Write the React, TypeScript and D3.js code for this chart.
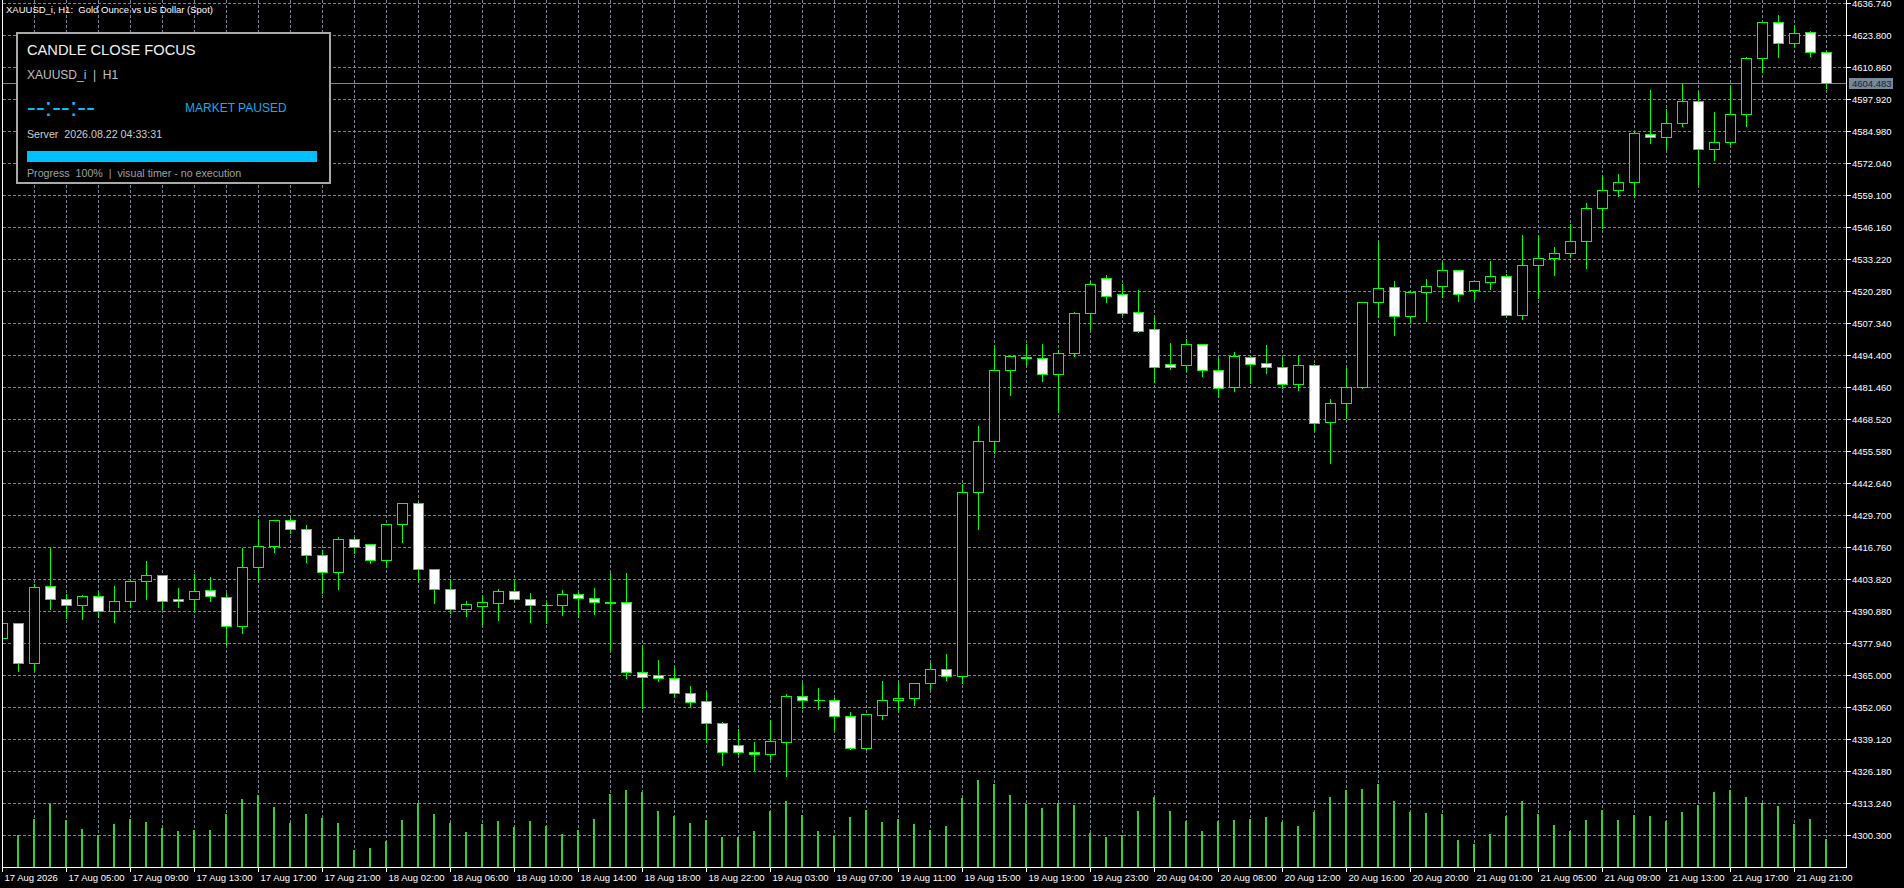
import React from "react";
import * as d3 from "d3";

// XAUUSD_i H1 bars, 17 Aug 01:00 .. 21 Aug 23:00
const open = [
  4379.96, 4386.02, 4370.09, 4400.99, 4395.73, 4393.31, 4396.95, 4390.88, 4394.92, 4403.01,
  4405.44, 4395.7, 4395.73, 4399.37, 4396.54, 4384.81, 4408.67, 4417.16, 4427.67, 4424.03,
  4413.52, 4406.64, 4419.99, 4417.97, 4411.74, 4426.05, 4434.6, 4407.86, 4399.77, 4391.93,
  4393.14, 4394.36, 4398.96, 4395.73, 4393.35, 4393.31, 4397.75, 4396.14, 4394.5, 4394.52,
  4366.45, 4365.0, 4363.79, 4357.72, 4354.5, 4345.58, 4336.69, 4333.86, 4333.05, 4337.9,
  4356.51, 4354.85, 4354.85, 4348.42, 4335.44, 4349.1, 4354.85, 4355.65, 4361.8, 4367.43,
  4364.55, 4439.04, 4459.66, 4488.37, 4493.9, 4493.15, 4487.0, 4495.21, 4511.34, 4525.54,
  4519.06, 4511.79, 4504.91, 4490.76, 4490.6, 4498.84, 4488.57, 4481.46, 4493.59, 4491.16,
  4489.55, 4482.67, 4490.35, 4467.3, 4474.99, 4481.7, 4515.83, 4521.9, 4510.17, 4519.87,
  4522.3, 4528.77, 4520.68, 4523.92, 4526.35, 4510.57, 4530.79, 4533.62, 4535.64, 4540.5,
  4553.84, 4561.12, 4564.35, 4584.01, 4582.55, 4588.45, 4597.11, 4577.94, 4580.77, 4591.85,
  4614.5, 4629.06, 4620.56, 4625.01, 4616.92,
];
const high = [
  4387.36, 4386.3, 4402.2, 4416.76, 4398.4, 4397.87, 4399.49, 4401.39, 4404.34, 4411.62,
  4405.6, 4400.58, 4406.24, 4405.15, 4398.8, 4416.76, 4428.48, 4428.0, 4428.89, 4426.18,
  4415.95, 4421.33, 4421.33, 4418.61, 4426.5, 4435.2, 4435.5, 4408.2, 4404.22, 4395.45,
  4397.87, 4400.17, 4403.82, 4398.68, 4395.04, 4399.89, 4399.2, 4400.58, 4406.64, 4406.64,
  4377.53, 4371.47, 4368.24, 4361.07, 4358.52, 4346.4, 4343.56, 4338.43, 4347.45, 4357.72,
  4362.17, 4360.3, 4356.06, 4350.48, 4349.5, 4363.01, 4363.01, 4362.2, 4370.3, 4373.98,
  4442.72, 4466.21, 4498.76, 4494.3, 4499.29, 4499.29, 4496.86, 4512.15, 4524.73, 4527.32,
  4523.51, 4521.09, 4510.41, 4499.65, 4501.27, 4499.25, 4494.11, 4496.14, 4494.4, 4498.97,
  4494.11, 4494.92, 4491.4, 4477.01, 4489.55, 4516.36, 4541.02, 4524.85, 4520.8, 4525.65,
  4532.65, 4529.2, 4524.6, 4532.94, 4527.8, 4543.45, 4542.92, 4538.48, 4547.78, 4556.27,
  4567.59, 4567.99, 4584.98, 4601.96, 4594.28, 4604.91, 4601.68, 4593.18, 4603.58, 4615.43,
  4629.4, 4632.41, 4627.96, 4625.82, 4617.85,
];
const low = [
  4378.87, 4366.74, 4367.14, 4391.93, 4388.29, 4387.89, 4388.69, 4386.67, 4392.74, 4395.97,
  4391.93, 4392.49, 4391.4, 4395.16, 4377.25, 4381.98, 4403.54, 4414.98, 4422.41, 4410.93,
  4398.16, 4400.01, 4414.57, 4410.53, 4408.67, 4419.02, 4403.54, 4394.11, 4390.31, 4388.98,
  4385.75, 4387.36, 4395.04, 4386.67, 4386.27, 4389.38, 4388.69, 4389.78, 4375.23, 4363.79,
  4351.65, 4362.81, 4356.75, 4352.7, 4338.14, 4328.72, 4332.77, 4326.7, 4331.03, 4324.4,
  4351.65, 4351.41, 4342.96, 4335.03, 4335.03, 4347.44, 4350.48, 4353.07, 4359.62, 4363.18,
  4362.08, 4424.28, 4454.77, 4478.26, 4490.55, 4484.12, 4471.43, 4494.24, 4505.19, 4516.11,
  4510.69, 4503.94, 4483.72, 4488.74, 4488.17, 4486.15, 4477.65, 4480.08, 4483.32, 4487.12,
  4481.05, 4480.36, 4464.19, 4450.72, 4468.92, 4481.05, 4510.01, 4502.73, 4507.74, 4508.39,
  4517.85, 4516.48, 4517.04, 4521.09, 4509.76, 4508.95, 4517.69, 4526.75, 4534.43, 4529.58,
  4545.75, 4558.69, 4558.93, 4580.37, 4577.94, 4587.24, 4563.55, 4573.5, 4579.96, 4587.24,
  4609.08, 4615.15, 4619.59, 4615.55, 4602.61,
];
const close = [
  4386.03, 4370.09, 4400.58, 4395.73, 4393.31, 4396.95, 4390.88, 4394.92, 4403.01, 4405.44,
  4394.92, 4395.2, 4398.96, 4396.95, 4384.81, 4408.67, 4417.16, 4427.67, 4424.03, 4413.52,
  4406.64, 4419.99, 4416.76, 4411.74, 4426.05, 4434.55, 4407.86, 4399.77, 4391.68, 4393.71,
  4394.52, 4398.96, 4395.73, 4393.31, 4393.35, 4397.75, 4396.14, 4394.52, 4394.1, 4366.45,
  4364.43, 4363.79, 4357.72, 4354.08, 4345.58, 4334.11, 4333.86, 4333.05, 4338.31, 4356.51,
  4354.89, 4354.85, 4348.42, 4335.44, 4349.23, 4354.85, 4355.65, 4361.8, 4367.43, 4364.55,
  4439.04, 4459.66, 4488.37, 4493.99, 4493.5, 4487.0, 4495.21, 4511.34, 4523.11, 4518.58,
  4511.63, 4504.35, 4489.55, 4489.55, 4498.84, 4488.57, 4481.05, 4493.99, 4490.76, 4489.55,
  4482.67, 4490.35, 4466.9, 4474.99, 4481.46, 4515.83, 4521.49, 4510.17, 4519.87, 4522.3,
  4528.77, 4519.06, 4524.32, 4526.35, 4510.57, 4530.79, 4533.62, 4535.64, 4540.5, 4553.84,
  4561.12, 4564.35, 4584.17, 4582.55, 4588.45, 4597.11, 4577.94, 4580.77, 4591.85, 4614.5,
  4629.06, 4620.56, 4624.6, 4616.92, 4604.483,
];
const volume = [
  4000, 3200, 4830, 6370, 4730, 3830, 3230, 4330, 4830, 4530,
  3930, 3630, 3730, 3730, 5330, 6830, 7170, 6030, 4430, 5330,
  4870, 4430, 1730, 1930, 2630, 4730, 6430, 5330, 4430, 3530,
  4330, 4630, 4030, 4630, 4130, 3330, 3730, 4830, 7270, 7730,
  7530, 5630, 5130, 4430, 4730, 3030, 3030, 3630, 5630, 6630,
  5230, 3630, 3130, 5030, 5730, 4530, 4830, 4330, 3730, 4130,
  6930, 8730, 8330, 7230, 6330, 5930, 6430, 6230, 3430, 3030,
  3230, 5630, 7030, 5630, 4630, 3630, 4630, 4730, 4830, 5030,
  4530, 4130, 5530, 7030, 7730, 7830, 8330, 6630, 5530, 5430,
  5330, 2730, 2330, 3330, 5130, 6630, 5330, 4230, 3630, 4730,
  5730, 4730, 5230, 5130, 4630, 5530, 6230, 7530, 7730, 7030,
  6430, 6130, 4330, 4830, 2830,
];

const priceTicks = [
  4636.74, 4623.8, 4610.86, 4597.92, 4584.98, 4572.04, 4559.1, 4546.16, 4533.22,
  4520.28, 4507.34, 4494.4, 4481.46, 4468.52, 4455.58, 4442.64, 4429.7, 4416.76,
  4403.82, 4390.88, 4377.94, 4365.0, 4352.06, 4339.12, 4326.18, 4313.24, 4300.3,
];

// one label every 4 bars
const timeLabels = [
  "17 Aug 2026", "17 Aug 05:00", "17 Aug 09:00", "17 Aug 13:00", "17 Aug 17:00",
  "17 Aug 21:00", "18 Aug 02:00", "18 Aug 06:00", "18 Aug 10:00", "18 Aug 14:00",
  "18 Aug 18:00", "18 Aug 22:00", "19 Aug 03:00", "19 Aug 07:00", "19 Aug 11:00",
  "19 Aug 15:00", "19 Aug 19:00", "19 Aug 23:00", "20 Aug 04:00", "20 Aug 08:00",
  "20 Aug 12:00", "20 Aug 16:00", "20 Aug 20:00", "21 Aug 01:00", "21 Aug 05:00",
  "21 Aug 09:00", "21 Aug 13:00", "21 Aug 17:00", "21 Aug 21:00",
];

const bidPrice = 4604.483;

const FONT = "'Liberation Sans', Arial, sans-serif";
const GRID = "#778899";
const CANDLE = "#00ff00";
const VOL = "#32cd32";
const BLUE = "#00bfff";
const NB = "\u00A0";

export default function App() {
  const W = 1904;
  const H = 888;
  const plotRight = 1846.5;
  const plotBottom = 867.5;
  const n = close.length;

  const x = d3.scaleLinear().domain([0, n - 1]).range([2.5, 1826.5]);
  const y = d3.scaleLinear().domain([4300.3, 4636.74]).range([835.3, 3.3]);
  const vh = d3.scaleLinear().domain([0, d3.max(volume) ?? 1]).range([0, 87.3]);
  const sy = (p: number) => Math.round(y(p)) + 0.5;

  const gridBars = d3.range(0, n, 2);
  const bidY = sy(bidPrice);

  return (
    <svg
      width={W}
      height={H}
      style={{ position: "fixed", left: 0, top: 0, display: "block" }}
      shapeRendering="crispEdges"
    >
      <defs>
        <clipPath id="plot">
          <rect x={3} y={0} width={plotRight - 3} height={plotBottom} />
        </clipPath>
      </defs>
      <rect width={W} height={H} fill="#000" />

      <g clipPath="url(#plot)">
        {/* grid */}
        {priceTicks.map((t) => (
          <line
            key={"h" + t}
            x1={3}
            x2={plotRight}
            y1={sy(t)}
            y2={sy(t)}
            stroke={GRID}
            strokeDasharray="3,2"
          />
        ))}
        {gridBars.map((i) => (
          <line
            key={"v" + i}
            x1={x(i)}
            x2={x(i)}
            y1={0}
            y2={plotBottom}
            stroke={GRID}
            strokeDasharray="3,2"
          />
        ))}

        {/* volumes */}
        {volume.map((vol, i) => (
          <rect
            key={"vol" + i}
            x={x(i) - 1.5}
            y={867 - Math.round(vh(vol))}
            width={2}
            height={Math.round(vh(vol))}
            fill={VOL}
          />
        ))}

        {/* bid line */}
        <line x1={3} x2={plotRight} y1={bidY} y2={bidY} stroke={GRID} />

        {/* candles */}
        {close.map((c, i) => {
          const o = open[i];
          const cx = x(i);
          const yTop = sy(Math.max(o, c));
          const yBot = sy(Math.min(o, c));
          return (
            <g key={"c" + i}>
              <line x1={cx} x2={cx} y1={sy(high[i])} y2={sy(low[i])} stroke={CANDLE} />
              {o === c ? (
                <line x1={cx - 5} x2={cx + 6} y1={yTop} y2={yTop} stroke={CANDLE} />
              ) : (
                <rect
                  x={cx - 5}
                  y={yTop}
                  width={10}
                  height={Math.max(1, yBot - yTop)}
                  fill={c > o ? "#000" : "#fff"}
                  stroke={CANDLE}
                />
              )}
            </g>
          );
        })}
      </g>

      {/* frame */}
      <line x1={2.5} x2={2.5} y1={0} y2={plotBottom} stroke="#fff" />
      <line x1={plotRight} x2={plotRight} y1={0} y2={plotBottom} stroke="#fff" />
      <line x1={2.5} x2={plotRight} y1={plotBottom} y2={plotBottom} stroke="#fff" />

      {/* price axis */}
      <g fontFamily={FONT} fontSize={9.5} fill="#fff">
        {priceTicks.map((t) => (
          <g key={"pt" + t}>
            <line x1={plotRight} x2={plotRight + 4} y1={sy(t)} y2={sy(t)} stroke="#fff" />
            <text x={1852} y={sy(t)} dy="0.35em">
              {t.toFixed(3)}
            </text>
          </g>
        ))}
      </g>
      <rect x={1849} y={bidY - 5.5} width={44} height={11} fill="#778899" />
      <text x={1852} y={bidY} dy="0.35em" fontFamily={FONT} fontSize={9.5} fill="#1b2026">
        {bidPrice.toFixed(3)}
      </text>

      {/* time axis */}
      <g fontFamily={FONT} fontSize={9.5} fill="#fff">
        {timeLabels.map((lab, k) => (
          <g key={"tl" + k}>
            <line x1={x(k * 4)} x2={x(k * 4)} y1={plotBottom} y2={plotBottom + 4} stroke="#fff" />
            <text x={x(k * 4) + 2} y={881}>
              {lab}
            </text>
          </g>
        ))}
      </g>

      {/* title */}
      <text x={6} y={13} fontFamily={FONT} fontSize={9.5} fill="#fff">
        {`XAUUSD_i, H1:${NB}${NB}Gold Ounce vs US Dollar (Spot)`}
      </text>

      {/* info panel */}
      <g fontFamily={FONT}>
        <rect x={16.5} y={32.5} width={313} height={150.5} fill="#000" stroke="#a9a9a9" strokeWidth={2} />
        <text x={27} y={55} fontSize={14.67} fill="#f0f0f0">
          CANDLE CLOSE FOCUS
        </text>
        <text x={27} y={79} fontSize={12} fill="#c0c0c0">
          {`XAUUSD_i${NB}${NB}|${NB}${NB}H1`}
        </text>
        <text x={27} y={116} fontSize={26.67} fill={BLUE}>
          {"--:--:--"}
        </text>
        <text x={185} y={111.7} fontSize={12} fill="#12aaf0">
          MARKET PAUSED
        </text>
        <text x={27} y={138.3} fontSize={10.67} fill="#d0d0d0">
          {`Server${NB}${NB}2026.08.22 04:33:31`}
        </text>
        <rect x={27} y={151} width={290} height={11} fill={BLUE} />
        <text x={27} y={177} fontSize={10.67} fill="#a0a0a0">
          {`Progress${NB}${NB}100%${NB}${NB}|${NB}${NB}visual timer - no execution`}
        </text>
      </g>
    </svg>
  );
}
